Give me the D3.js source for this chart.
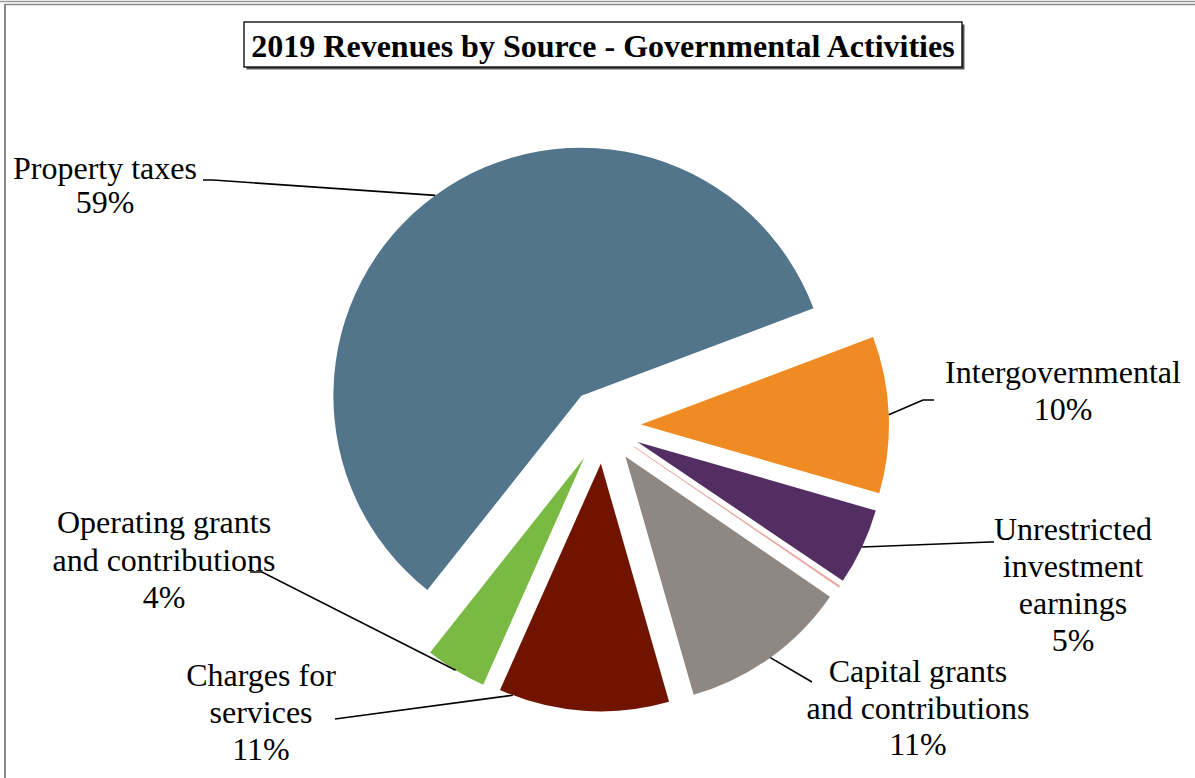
<!DOCTYPE html>
<html>
<head>
<meta charset="utf-8">
<script src="https://cdn.jsdelivr.net/npm/d3@7"></script>
<style>
  html, body { margin: 0; padding: 0; background: #fff; }
  svg { display: block; }
  text { font-family: "Liberation Serif", "Times New Roman", serif; fill: #000; }
</style>
</head>
<body>
<svg id="chart" width="1195" height="778"></svg>
<script>
// Revenue sources (share of total, %), in pie order
const categories = [
  "Property taxes",
  "Intergovernmental",
  "Unrestricted investment earnings",
  "Other",
  "Capital grants and contributions",
  "Charges for services",
  "Operating grants and contributions"
];
const values = [58.6, 10.2, 5.0, 0.1, 11.0, 11.1, 4.0];
const labelLines = [
  ["Property taxes"],
  ["Intergovernmental"],
  ["Unrestricted", "investment", "earnings"],
  null,
  ["Capital grants", "and contributions"],
  ["Charges for", "services"],
  ["Operating grants", "and contributions"]
];
const sliceColors = ["#52758b", "#f08a22", "#532e62", "#e9a39d", "#8e8782", "#701400", "#7aba44"];
const titleText = "2019 Revenues by Source - Governmental Activities";

const svg = d3.select("#chart");

// chart frame
svg.append("line").attr("x1", 0).attr("x2", 1195).attr("y1", 1.5).attr("y2", 1.5)
  .attr("stroke", "#9a9a9a").attr("stroke-width", 1.5);
svg.append("line").attr("x1", 5).attr("x2", 1195).attr("y1", 4.5).attr("y2", 4.5)
  .attr("stroke", "#8a8a8a").attr("stroke-width", 1.5);
svg.append("line").attr("x1", 5).attr("x2", 5).attr("y1", 4).attr("y2", 778)
  .attr("stroke", "#8a8a8a").attr("stroke-width", 2);

// title box with drop shadow
const tb = { x: 244, y: 22, w: 718, h: 45 };
svg.append("rect").attr("x", tb.x + 2.5).attr("y", tb.y + 2.5).attr("width", tb.w).attr("height", tb.h)
  .attr("fill", "#555");
svg.append("rect").attr("x", tb.x).attr("y", tb.y).attr("width", tb.w).attr("height", tb.h)
  .attr("fill", "#fff").attr("stroke", "#000").attr("stroke-width", 1.3);
svg.append("text").attr("x", tb.x + tb.w / 2).attr("y", 56.5)
  .attr("text-anchor", "middle").attr("font-weight", "bold").attr("font-size", "32px")
  .text(titleText);

// pie geometry
const cx = 603.5, cy = 426, R = 248, explode = 37.5;
const start = 218.4 * Math.PI / 180;
const pie = d3.pie().sort(null).value(d => d).startAngle(start).endAngle(start + 2 * Math.PI);
const arc = d3.arc().innerRadius(0).outerRadius(R);
const arcs = pie(values);

const offset = d => {
  const m = (d.startAngle + d.endAngle) / 2;
  return [Math.sin(m) * explode, -Math.cos(m) * explode];
};

const g = svg.append("g").attr("transform", `translate(${cx},${cy})`);
g.selectAll("path.slice").data(arcs).join("path")
  .attr("class", "slice")
  .attr("d", arc)
  .attr("fill", (d, i) => sliceColors[i])
  .attr("stroke", (d, i) => i === 3 ? sliceColors[i] : "none")
  .attr("stroke-width", 0.6)
  .attr("transform", d => `translate(${offset(d)})`);

// label placement: text centre, first baseline, line step, leader attach fraction, leader path to text
const labelLayout = [
  { x: 105, y: 179, step: 34, f: 0.5, path: [[213, 180], [203, 180]] },
  { x: 1063, y: 383, step: 37, f: 0.5, path: [[923, 400], [934, 400]] },
  { x: 1073, y: 540, step: 37, f: 0.5, path: [[990, 542], [994, 542]] },
  null,
  { x: 918, y: 682, step: 36.5, f: 0.5, path: [[812, 682]] },
  { x: 261, y: 686, step: 37, f: 0.92, path: [[335, 719]] },
  { x: 164, y: 533, step: 37.5, f: 0.5, path: [[262, 572], [250, 572]] }
];

const pct = d3.format(".0f");
const total = d3.sum(values);

arcs.forEach((d, i) => {
  const L = labelLayout[i];
  if (!L) return;
  const [ox, oy] = offset(d);
  const a = d.startAngle + (d.endAngle - d.startAngle) * L.f;
  const p0 = [cx + ox + Math.sin(a) * R, cy + oy - Math.cos(a) * R];
  svg.append("path")
    .attr("d", d3.line()([p0, ...L.path]))
    .attr("fill", "none").attr("stroke", "#000").attr("stroke-width", 1.6);

  const lines = labelLines[i].concat([pct(values[i] / total * 100) + "%"]);
  const t = svg.append("text").attr("text-anchor", "middle").attr("font-size", "32px");
  lines.forEach((s, k) => {
    t.append("tspan").attr("x", L.x).attr("y", L.y + k * L.step).text(s);
  });
});
</script>
</body>
</html>
